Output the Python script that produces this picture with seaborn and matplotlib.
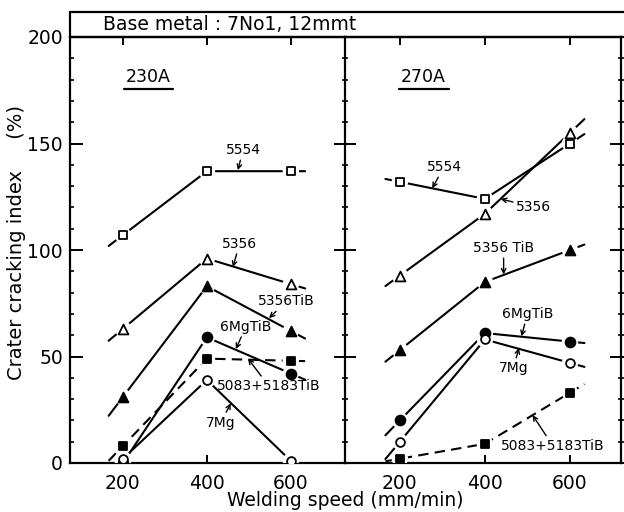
import numpy as np
import pandas as pd
import matplotlib
matplotlib.use("Agg")
import matplotlib.pyplot as plt
import seaborn as sns
from matplotlib.ticker import MultipleLocator, FixedLocator
from matplotlib.patches import Rectangle

# ---------------- data ----------------
speeds = [200, 400, 600]
series_names = ["5554", "5356", "5356TiB", "6MgTiB", "5083+5183TiB", "7Mg"]

# 230A panel
a230_5554 = [107, 137, 137]
a230_5356 = [63, 96, 84]
a230_5356TiB = [31, 83, 62]
a230_6MgTiB = [0, 59, 42]
a230_5083TiB = [8, 49, 48]
a230_7Mg = [2, 39, 1]

# 270A panel
a270_5554 = [132, 124, 150]
a270_5356 = [88, 117, 155]
a270_5356TiB = [53, 85, 100]
a270_6MgTiB = [20, 61, 57]
a270_7Mg = [10, 58, 47]
a270_5083TiB = [2, 9, 33]

panel_labels = ["230A", "270A"]
title_text = "Base metal : 7No1, 12mmt"
x_label = "Welding speed (mm/min)"
y_label = "Crater cracking index     (%)"
y_ticks = [0, 50, 100, 150, 200]
x_ticks = [200, 400, 600]

panels = {
    "230A": {"5554": a230_5554, "5356": a230_5356, "5356TiB": a230_5356TiB,
             "6MgTiB": a230_6MgTiB, "5083+5183TiB": a230_5083TiB, "7Mg": a230_7Mg},
    "270A": {"5554": a270_5554, "5356": a270_5356, "5356TiB": a270_5356TiB,
             "6MgTiB": a270_6MgTiB, "5083+5183TiB": a270_5083TiB, "7Mg": a270_7Mg},
}

rows = []
for p, d in panels.items():
    for s, vals in d.items():
        for x, v in zip(speeds, vals):
            rows.append({"panel": p, "series": s, "speed": x, "value": v})
df = pd.DataFrame(rows)

# ---------------- styles ----------------
marker_style = {
    "5554": dict(marker="s", fc="white", s=36),
    "5356": dict(marker="^", fc="white", s=50),
    "5356TiB": dict(marker="^", fc="black", s=50),
    "6MgTiB": dict(marker="o", fc="black", s=50),
    "5083+5183TiB": dict(marker="s", fc="black", s=36),
    "7Mg": dict(marker="o", fc="white", s=40),
}
dashed = {"5083+5183TiB"}

# annotation positions: (text_xy, arrow tip xy) in data coords
annots = {
    "230A": [
        ("5554", (486, 147), (474, 137.5)),
        ("5356", (478, 103), (462, 92)),
        ("5356TiB", (590, 76), (548, 68)),
        ("6MgTiB", (493, 64), (469, 53.5)),
        ("5083+5183TiB", (548, 36), (498, 49)),
        ("7Mg", (433, 19), (457, 28)),
    ],
    "270A": [
        ("5554", (304, 139), (276, 129)),
        ("5356", (515, 120), (437, 124)),
        ("5356 TiB", (444, 101), (444, 88.5)),
        ("6MgTiB", (500, 70), (486, 59.5)),
        ("7Mg", (467, 44.5), (480, 54)),
        ("5083+5183TiB", (560, 8), (512, 22.5)),
    ],
}

sns.set_theme(style="white")
plt.rcParams["font.family"] = ["DejaVu Sans"]
plt.rcParams["axes.linewidth"] = 1.6
for k in ["text.color", "xtick.color", "ytick.color", "axes.labelcolor", "axes.edgecolor"]:
    plt.rcParams[k] = "black"

fig = plt.figure(figsize=(6.24, 5.12), dpi=100)
W, H = 624, 512
ax_l_px, ax_m_px, ax_r_px = 70, 345, 621
ax_top_px, ax_bot_px = 37, 463
bottom = 1 - ax_bot_px / H
height = (ax_bot_px - ax_top_px) / H
ax1 = fig.add_axes([ax_l_px / W, bottom, (ax_m_px - ax_l_px) / W, height])
ax2 = fig.add_axes([ax_m_px / W, bottom, (ax_r_px - ax_m_px) / W, height])
xlims = {"230A": (74, 729), "270A": (71, 720)}

for ax, p in zip([ax1, ax2], panel_labels):
    sub = df[df.panel == p]
    # lines with short extension stubs
    for s in series_names:
        ss = sub[sub.series == s].sort_values("speed")
        xs = ss.speed.to_numpy(float)
        ys = ss.value.to_numpy(float)
        f = 0.17
        x0 = xs[0] - f * (xs[1] - xs[0]); y0 = ys[0] - f * (ys[1] - ys[0])
        x1 = xs[-1] + f * (xs[-1] - xs[-2]); y1 = ys[-1] + f * (ys[-1] - ys[-2])
        ext = pd.DataFrame({"speed": np.r_[x0, xs, x1], "value": np.r_[y0, ys, y1]})
        ls = (0, (5, 3)) if s in dashed else "-"
        sns.lineplot(data=ext, x="speed", y="value", ax=ax, color="black",
                     lw=1.5, linestyle=ls, sort=False, estimator=None, legend=False)
    # white halos to open gaps around markers
    sns.scatterplot(data=sub, x="speed", y="value", ax=ax, color="white",
                    s=140, marker="o", edgecolor="none", legend=False, zorder=3)
    for s in series_names:
        ss = sub[sub.series == s]
        m = marker_style[s]
        sns.scatterplot(data=ss, x="speed", y="value", ax=ax, marker=m["marker"],
                        s=m["s"], color=m["fc"], edgecolor="black", linewidth=1.3,
                        legend=False, zorder=4)
    for txt, xyt, xy in annots[p]:
        ax.annotate(txt, xy=xy, xytext=xyt, ha="center", va="center",
                    fontsize=10, color="black",
                    arrowprops=dict(arrowstyle="->", lw=1.0, color="black",
                                    shrinkA=0, shrinkB=0, mutation_scale=8))
    ax.set_xlim(*xlims[p])
    ax.set_ylim(0, 200)
    ax.set_xlabel("")
    ax.set_ylabel("")
    ax.xaxis.set_major_locator(FixedLocator(x_ticks))
    ax.yaxis.set_major_locator(FixedLocator(y_ticks))
    ax.yaxis.set_minor_locator(MultipleLocator(10))
    ax.tick_params(axis="x", which="major", direction="in", top=True, bottom=True,
                   length=6, width=1.4, labelsize=13.5, pad=8)
    ax.text(0.285, 0.905, p, transform=ax.transAxes, ha="center", va="center",
            fontsize=12.5)
    ax.plot([0.195, 0.375], [0.879, 0.879], transform=ax.transAxes, color="black",
            lw=1.6)
    for sp in ax.spines.values():
        sp.set_color("black")
        sp.set_linewidth(1.6)

ax1.tick_params(axis="y", which="major", direction="in", left=True, right=False,
                length=9, width=1.4, labelsize=13.5, pad=5)
ax1.tick_params(axis="y", which="minor", direction="in", left=True, right=False,
                length=3, width=1.2)
ax2.tick_params(axis="y", which="major", direction="inout", left=True, right=True,
                length=16, width=1.4, labelleft=False)
ax2.tick_params(axis="y", which="minor", direction="inout", left=True, right=True,
                length=5, width=1.2)
ax1.spines["right"].set_visible(False)

# title box
fig.add_artist(Rectangle((ax_l_px / W, 1 - ax_top_px / H), 1.2, (ax_top_px - 12) / H,
                         transform=fig.transFigure, fill=False, lw=1.6,
                         edgecolor="black"))
fig.text(103 / W, 1 - 25 / H, title_text, ha="left", va="center", fontsize=13.5)

fig.text(345 / W, 1 - 501 / H, x_label, ha="center", va="center", fontsize=13.5)
fig.text(17 / W, 1 - 242 / H, y_label, ha="center", va="center", rotation=90,
         fontsize=14)

fig.savefig("out.png", dpi=100)
